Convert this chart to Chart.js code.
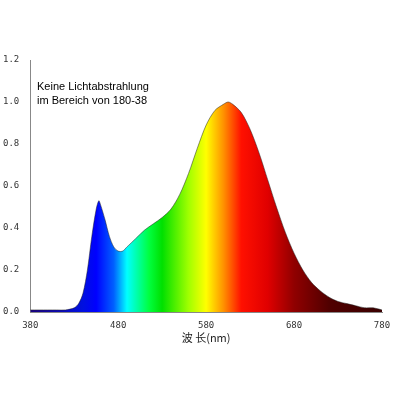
<!DOCTYPE html><html><head><script src="https://cdn.jsdelivr.net/npm/chart.js"></script>
<style>body{margin:0;background:#fff}#w{width:400px;height:400px}</style></head><body><div id="w"><canvas id="c"></canvas></div>
<script>
const wavelengths=[380,390,400,410,420,430,435,440,445,450,455,458,460,465,470,475,480,485,490,500,510,520,530,540,550,560,570,580,590,600,605,610,620,630,640,650,660,670,680,690,700,710,720,730,740,750,760,770,780];
const intensity=[0.01,0.01,0.01,0.01,0.01,0.02,0.04,0.09,0.2,0.36,0.49,0.53,0.51,0.44,0.36,0.31,0.29,0.29,0.31,0.35,0.39,0.42,0.45,0.49,0.56,0.66,0.78,0.89,0.96,0.99,1.0,0.99,0.95,0.87,0.76,0.63,0.5,0.38,0.28,0.2,0.14,0.1,0.07,0.05,0.04,0.03,0.02,0.02,0.01];
const annotation=["Keine Lichtabstrahlung","im Bereich von 180-38"];
const stops=[[380,'#1a0080'],[440,'#0010e0'],[455,'#0000ff'],[475,'#0060ff'],[490,'#00ffff'],[515,'#00ff40'],[530,'#00e000'],[560,'#a0ff00'],[580,'#ffff00'],[600,'#ff9000'],[620,'#ff1000'],[650,'#e00000'],[680,'#900000'],[720,'#500000'],[780,'#3a0000']];
const txt={id:'txt',afterDraw(ch){const c=ch.ctx;c.save();c.fillStyle='#000';c.font='11px "Liberation Sans",Arial';c.fillText(annotation[0],37,90);c.fillText(annotation[1],37,104);c.restore();}};
new Chart(document.getElementById('c'),{type:'line',data:{datasets:[{data:wavelengths.map((x,i)=>({x,y:intensity[i]})),fill:'origin',borderWidth:0.5,borderColor:'#222',pointRadius:0,tension:0.3,
backgroundColor(ctx){const a=ctx.chart.chartArea;if(!a)return '#f00';const s=ctx.chart.scales.x;const g=ctx.chart.ctx.createLinearGradient(s.getPixelForValue(380),0,s.getPixelForValue(780),0);stops.forEach(([w,c])=>g.addColorStop((w-380)/400,c));return g;}}]},
plugins:[txt],
options:{responsive:true,maintainAspectRatio:false,animation:false,layout:{padding:{left:0,right:18,top:60,bottom:56}},plugins:{legend:{display:false},tooltip:{enabled:false}},
scales:{x:{type:'linear',min:380,max:780,grid:{display:false},border:{color:'#888'},ticks:{stepSize:100,font:{family:'DejaVu Sans Mono',size:9},color:'#333',padding:0},title:{display:true,text:'波 长(nm)',font:{family:'Noto Sans CJK SC',size:11},color:'#222',padding:0}},
y:{min:0,max:1.2,grid:{display:false},border:{color:'#888'},ticks:{stepSize:0.2,callback:v=>v.toFixed(1),font:{family:'DejaVu Sans Mono',size:9},color:'#333'}}}}});
</script></body></html>
